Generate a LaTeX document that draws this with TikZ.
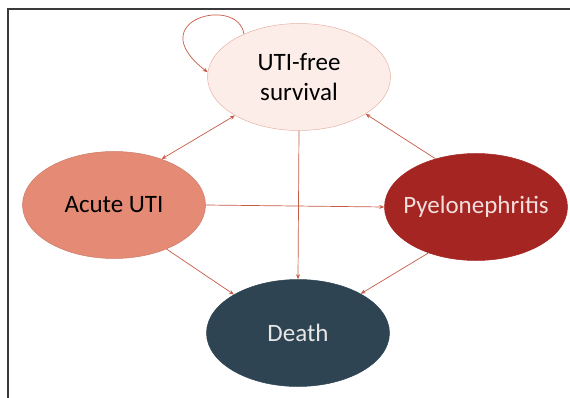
\documentclass[tikz,border=0pt]{standalone}
\usepackage{fontspec}
\setmainfont{Carlito}
\usepackage{xcolor}
\usetikzlibrary{positioning,arrows.meta,shapes.geometric}
\definecolor{freeFill}{HTML}{FCEDE9}
\definecolor{freeDraw}{HTML}{E9B2A6}
\definecolor{acuteFill}{HTML}{E48A75}
\definecolor{pyeloFill}{HTML}{A52522}
\definecolor{pyeloText}{HTML}{F4DEDC}
\definecolor{deathFill}{HTML}{2F4452}
\definecolor{deathText}{HTML}{E6E6E6}
\definecolor{arrowCol}{HTML}{C55A45}
\definecolor{frameCol}{HTML}{3A3A3A}

\begin{document}
\begin{tikzpicture}[
  x=1pt, y=1pt,
  font=\fontsize{25}{30}\selectfont,
  state/.style={ellipse, minimum width=183pt, minimum height=107pt, inner xsep=-12pt,
                inner ysep=0pt, align=center, line width=0.5pt},
  flow/.style={-{Stealth[length=5pt,width=4pt]}, line width=0.7pt, draw=arrowCol},
  bothflow/.style={flow, {Stealth[length=5pt,width=4pt]}-{Stealth[length=5pt,width=4pt]}},
]
\useasboundingbox (0,0) rectangle (570,-398);

% ---- Rahmen ----
\draw[frameCol, line width=1.2pt] (570,-9) -- (8,-9) -- (8,-398);

% ---- Zustaende ----
\node[state, fill=freeFill, draw=freeDraw]            (surv)  at (299,-77)  {UTI-free\\survival};
\node[state, fill=acuteFill, draw=acuteFill!90!black] (acute) at (114,-205) {Acute UTI};
\node[state, fill=pyeloFill, draw=pyeloFill, text=pyeloText] (pyelo) at (476,-207) {Pyelonephritis};
\node[state, fill=deathFill, draw=deathFill, text=deathText] (death) at (298,-333) {Death};

% ---- Uebergaenge ----
\draw[flow] (surv.142) .. controls (238,5) and (140,-20) .. (surv.177);
\draw[bothflow] (acute.44) -- (surv.211);
\draw[flow] (pyelo.130) -- (surv.331);
\draw[flow] (acute.east) -- (pyelo.west);
\draw[flow] (surv.south) -- (death.north);
\draw[flow] (acute.320) -- (death.149);
\draw[flow] (pyelo.224) -- (death.32);

\end{tikzpicture}
\end{document}
